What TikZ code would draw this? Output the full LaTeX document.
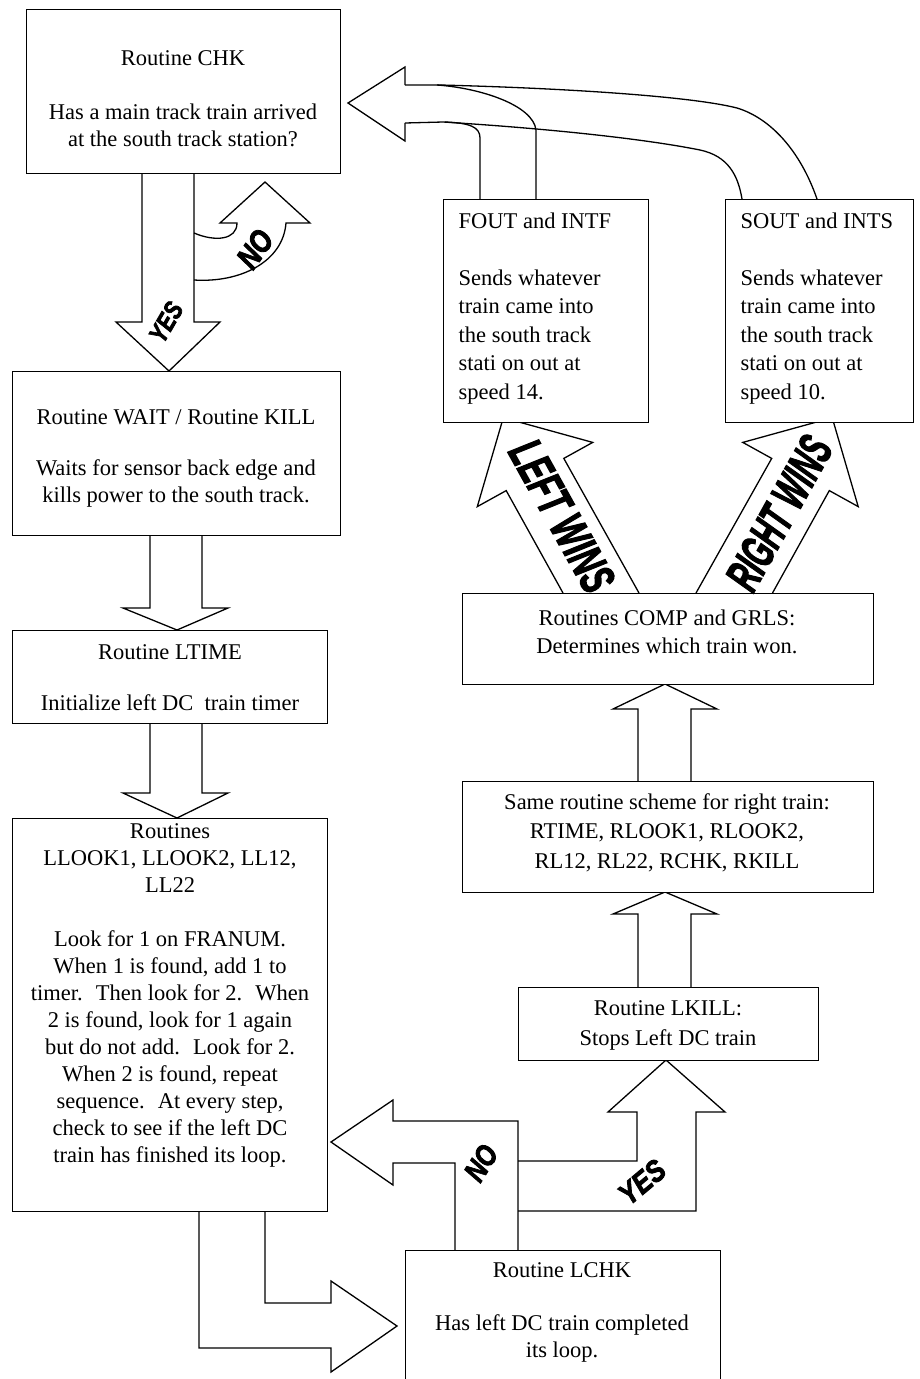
\documentclass[tikz,border=0pt]{standalone}
\usepackage{fontspec}
\setmainfont{Liberation Serif}
\newfontfamily\wafont{Liberation Sans}[FakeBold=3]
\usepackage{graphicx}
\usetikzlibrary{backgrounds}
\begin{document}
\begin{tikzpicture}[x=1pt,y=-1pt,line width=1.3pt]
\tikzset{
 box/.style={draw, fill=white, line width=1.3pt, inner sep=0pt, anchor=north west},
 txt/.style={font=\fontsize{22.5}{27}\selectfont, align=center, inner sep=0pt},
 ltxt/.style={font=\fontsize{22.5}{28.5}\selectfont, align=left, inner sep=0pt, anchor=west},
 blk/.style={draw, line width=1.3pt, line join=miter},
 wa/.style={font=\wafont\bfseries\itshape, inner sep=0pt},
}
\useasboundingbox (0,0) rectangle (919,1379);
% boxes
\node[box, minimum width=314pt, minimum height=164pt] (chk) at (26,9) {};
\node[box, minimum width=328pt, minimum height=164pt] (wait) at (12,371) {};
\node[box, minimum width=315pt, minimum height=93pt] (ltime) at (12,630) {};
\node[box, minimum width=315pt, minimum height=393pt] (llook) at (12,818) {};
\node[box, minimum width=315pt, minimum height=131pt] (lchk) at (405,1250) {};
\node[box, minimum width=205pt, minimum height=223pt] (fout) at (443,199) {};
\node[box, minimum width=188pt, minimum height=223pt] (sout) at (725,199) {};
\node[box, minimum width=411pt, minimum height=91pt] (comp) at (462,593) {};
\node[box, minimum width=411pt, minimum height=111pt] (same) at (462,781) {};
\node[box, minimum width=300pt, minimum height=73pt] (lkill) at (518,987) {};
% texts
\node[txt] (chkT) at (183,98.5) {Routine CHK\\[27pt]Has a main track train arrived\\at the south track station?};
\node[txt] (waitT) at (176,458.5) {Routine WAIT / Routine KILL\\[24pt]Waits for sensor back edge and\\kills power to the south track.};
\node[txt] (ltimeT) at (170,677.5) {Routine LTIME\\[24pt]Initialize left DC~ train timer};
\node[txt] (llookT) at (170,995) {Routines\\LLOOK1, LLOOK2, LL12,\\LL22\\[27pt]Look for 1 on FRANUM.\\When 1 is found, add 1 to\\timer.~ Then look for 2.~ When\\2 is found, look for 1 again\\but do not add.~ Look for 2.\\When 2 is found, repeat\\sequence.~ At every step,\\check to see if the left DC\\train has finished its loop.};
\node[txt] (lchkT) at (562,1312.5) {Routine LCHK\\[26pt]Has left DC train completed\\its loop.};
\node[ltxt] (foutT) at (458,308.5) {FOUT and INTF\\[28.5pt]Sends whatever\\train came into\\the south track\\stati on out at\\speed 14.};
\node[ltxt] (soutT) at (740,308.5) {SOUT and INTS\\[28.5pt]Sends whatever\\train came into\\the south track\\stati on out at\\speed 10.};
\node[txt, font=\fontsize{22.5}{28}\selectfont] (compT) at (667,632) {Routines COMP and GRLS:\\Determines which train won.};
\node[txt, font=\fontsize{22.5}{29.5}\selectfont] (sameT) at (667,832.5) {Same routine scheme for right train:\\RTIME, RLOOK1, RLOOK2,\\RL12, RL22, RCHK, RKILL};
\node[txt, font=\fontsize{22.5}{30}\selectfont] (lkillT) at (668,1025) {Routine LKILL:\\Stops Left DC train};
% block arrows
\begin{pgfonlayer}{background}
\fill[white] (0,0) rectangle (919,1379);
% CHK -> WAIT (YES)
\draw[blk] (142,173) -- (142,322) -- (116,322) -- (169,371) -- (220,322) -- (194,322) -- (194,173);
% NO curved back to CHK
\draw[blk] (194,233) .. controls (215,242) and (237,240) .. (237,223) -- (220,223) -- (265,182) -- (310,223) -- (286,223) .. controls (283,262) and (240,283) .. (194,280);
% WAIT -> LTIME
\draw[blk] (150,535) -- (150,608) -- (123,608) -- (177,630) -- (228,608) -- (202,608) -- (202,535);
% LTIME -> LLOOK
\draw[blk] (150,723) -- (150,793) -- (123,793) -- (177,818) -- (228,793) -- (202,793) -- (202,723);
% LLOOK -> LCHK
\draw[blk] (265,1211) -- (265,1303) -- (331,1303) -- (331,1281) -- (397,1326) -- (331,1372) -- (331,1348) -- (199,1348) -- (199,1211);
% LCHK -> LLOOK (NO)
\draw[blk] (455,1250) -- (455,1163) -- (393,1163) -- (393,1185) -- (331,1142) -- (393,1100) -- (393,1121) -- (518,1121) -- (518,1250);
% LCHK -> LKILL (YES)
\draw[blk] (518,1161) -- (637,1161) -- (637,1112) -- (608,1112) -- (666,1060) -- (725,1112) -- (696,1112) -- (696,1211) -- (518,1211);
% LKILL -> SAME
\draw[blk] (638,987) -- (638,914) -- (613,914) -- (665,892) -- (717,914) -- (691,914) -- (691,987);
% SAME -> COMP
\draw[blk] (638,781) -- (638,709) -- (613,709) -- (665,684) -- (717,709) -- (691,709) -- (691,781);
% COMP -> FOUT (LEFT WINS)
\draw[blk] (563,593) -- (506.2,490.6) -- (477.3,506.6) -- (503.3,417.7) -- (592.7,442.4) -- (563.8,458.4) -- (639,593);
% COMP -> SOUT (RIGHT WINS)
\draw[blk] (772.5,593) -- (829.3,490.6) -- (858.2,506.6) -- (832.2,417.7) -- (742.8,442.4) -- (771.7,458.4) -- (696,593);
% FOUT/SOUT -> CHK
\draw[blk] (405,85) -- (405,67) -- (348,103) -- (405,141) -- (405,123);
\draw[blk] (405,85) -- (440,85) .. controls (560,88) and (690,96) .. (737,108) .. controls (770,118) and (800,150) .. (817,199);
\draw[blk] (405,123) -- (443,122) .. controls (540,128) and (640,138) .. (700,150) .. controls (728,156) and (738,175) .. (742,199);
\draw[blk] (480,199) -- (480,138) .. controls (480,127) and (470,123) .. (445,122);
\draw[blk] (536,199) -- (536,130) .. controls (533,105) and (480,88) .. (437,85);
\end{pgfonlayer}
% word-art labels
\node[wa, rotate=60] (yesA) at (166,322) {\fontsize{26}{26}\selectfont\scalebox{0.8}[1]{YES}};
\node[wa, rotate=55] (noA) at (255,249) {\fontsize{32}{32}\selectfont\scalebox{0.8}[1]{NO}};
\node[wa, rotate=-61] (leftw) at (562,516) {\fontsize{48}{48}\selectfont\scalebox{0.64}[1]{LEFT WINS}};
\node[wa, rotate=61] (rightw) at (779,513) {\fontsize{48}{48}\selectfont\scalebox{0.58}[1]{RIGHT WINS}};
\node[wa, rotate=58] (noB) at (481,1163) {\fontsize{30}{30}\selectfont\scalebox{0.8}[1]{NO}};
\node[wa, rotate=40] (yesB) at (642,1182) {\fontsize{30}{30}\selectfont\scalebox{0.85}[1]{YES}};
\end{tikzpicture}
\end{document}
